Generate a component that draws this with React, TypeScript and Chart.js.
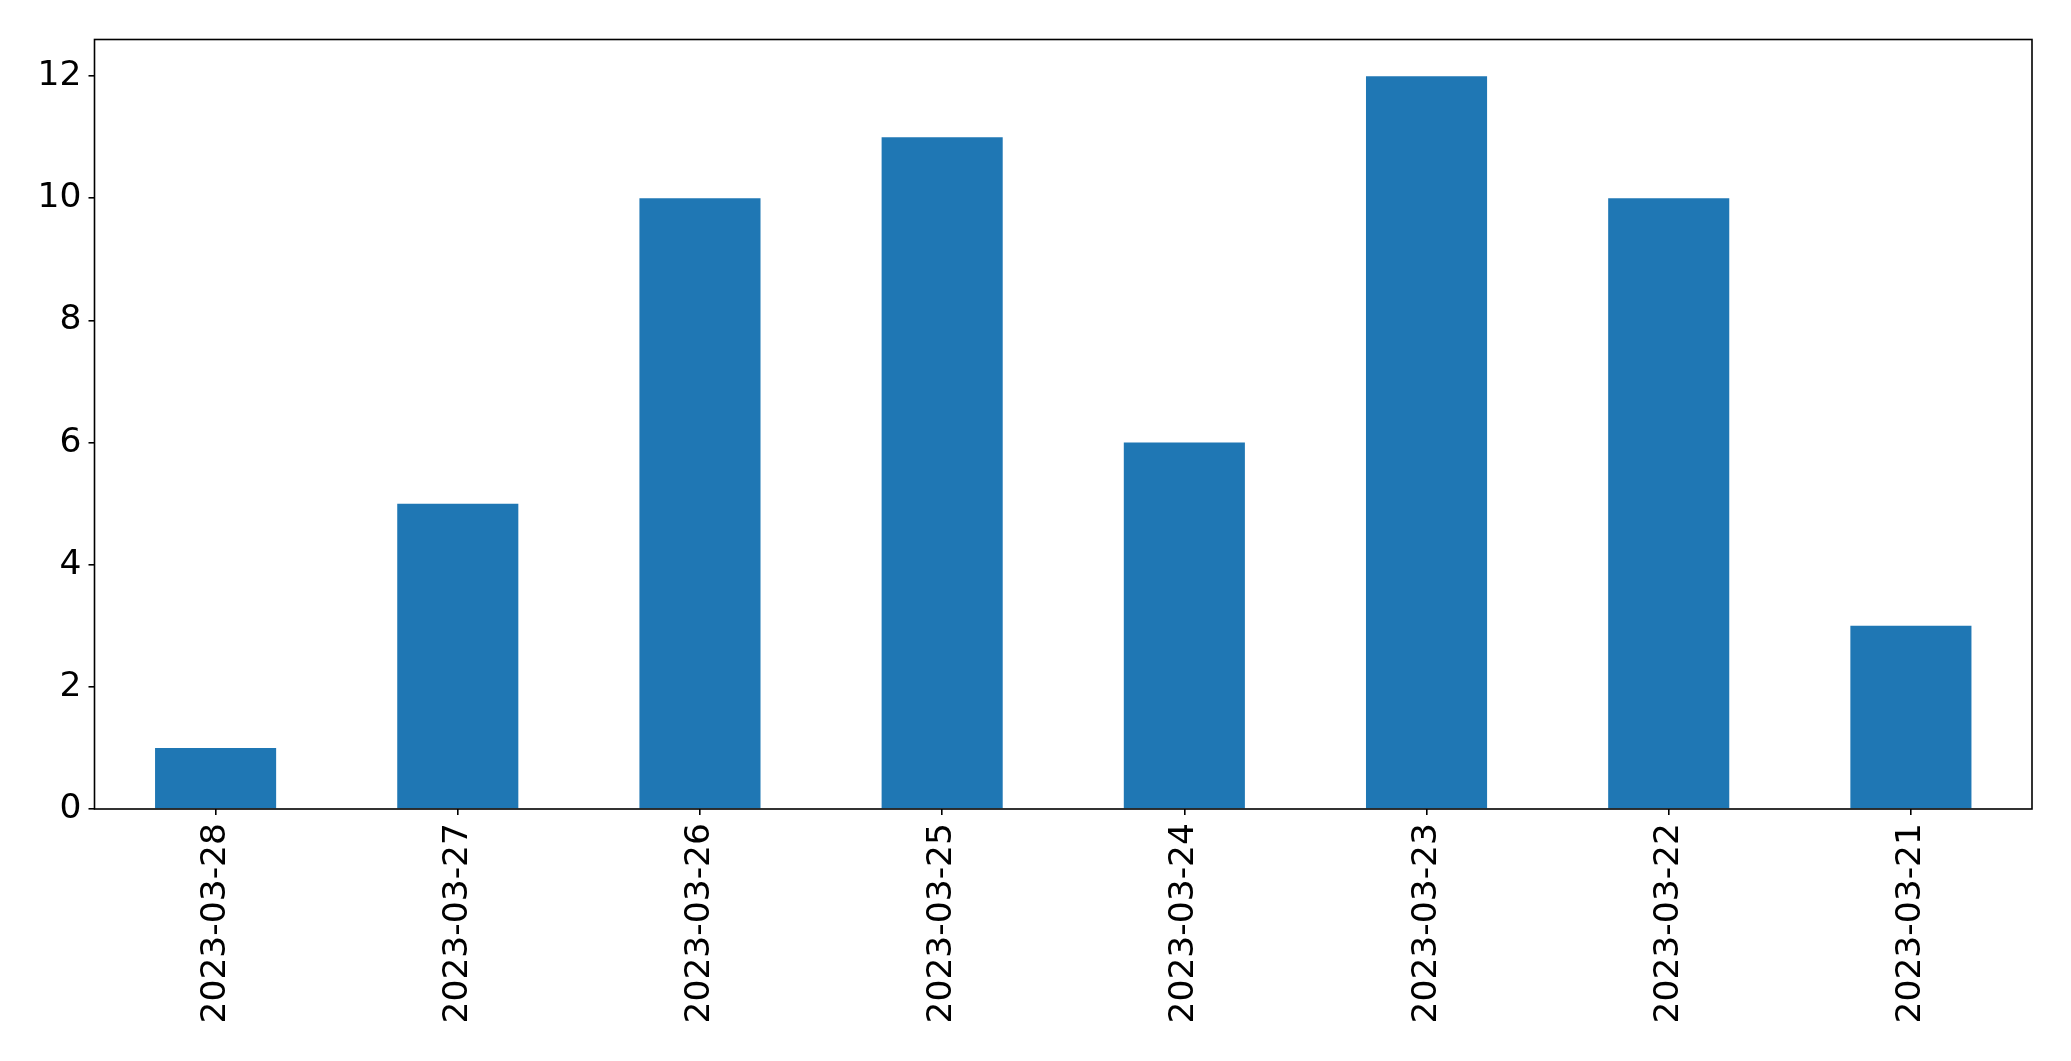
import React, { useEffect, useRef } from "react";
import { Chart, registerables } from "chart.js";

Chart.register(...registerables);

const categories = [
  "2023-03-28",
  "2023-03-27",
  "2023-03-26",
  "2023-03-25",
  "2023-03-24",
  "2023-03-23",
  "2023-03-22",
  "2023-03-21",
];
const values = [1, 5, 10, 11, 6, 12, 10, 3];
const yTicks = [0, 2, 4, 6, 8, 10, 12];
const yMax = 12.6;

const W = 2071;
const H = 1061;
const FONT = "'DejaVu Sans', sans-serif";
const FS = 34.5;

const framePlugin = {
  id: "frame",
  afterDraw(chart: any) {
    const { ctx, chartArea } = chart;
    ctx.save();
    ctx.strokeStyle = "#000";
    ctx.lineWidth = 1.6;
    ctx.strokeRect(chartArea.left, chartArea.top, chartArea.right - chartArea.left, chartArea.bottom - chartArea.top);
    ctx.restore();
  },
};

export default function App() {
  const ref = useRef<HTMLCanvasElement>(null);
  useEffect(() => {
    document.body.style.margin = "0";
    const chart = new Chart(ref.current as HTMLCanvasElement, {
      type: "bar",
      data: {
        labels: categories,
        datasets: [
          {
            data: values,
            backgroundColor: "#1f77b4",
            categoryPercentage: 1,
            barPercentage: 0.5,
          },
        ],
      },
      options: {
        animation: false,
        responsive: false,
        devicePixelRatio: 1,
        layout: { padding: { left: 0, top: 39.5, right: 39, bottom: 0 } },
        plugins: { legend: { display: false }, tooltip: { enabled: false } },
        scales: {
          x: {
            offset: true,
            grid: { display: true, offset: false, drawOnChartArea: false, drawTicks: true, tickLength: 6, color: "#000", lineWidth: 1.6 },
            border: { display: false },
            ticks: {
              minRotation: 90,
              maxRotation: 90,
              autoSkip: false,
              padding: 8,
              color: "#000",
              font: { family: FONT, size: FS },
            },
            afterFit(scale: any) {
              scale.height = H - 809;
            },
          },
          y: {
            min: 0,
            max: yMax,
            grid: { display: true, drawOnChartArea: false, drawTicks: true, tickLength: 6, color: "#000", lineWidth: 1.6 },
            border: { display: false },
            ticks: {
              padding: 7,
              color: "#000",
              font: { family: FONT, size: FS },
            },
            afterBuildTicks(scale: any) {
              scale.ticks = yTicks.map((v) => ({ value: v }));
            },
            afterFit(scale: any) {
              scale.width = 94.5;
            },
          },
        },
      },
      plugins: [framePlugin],
    });
    return () => chart.destroy();
  }, []);
  return (
    <div style={{ position: "fixed", left: 0, top: 0, width: W, height: H, background: "#fff" }}>
      <canvas ref={ref} width={W} height={H} style={{ width: W, height: H }} />
    </div>
  );
}
